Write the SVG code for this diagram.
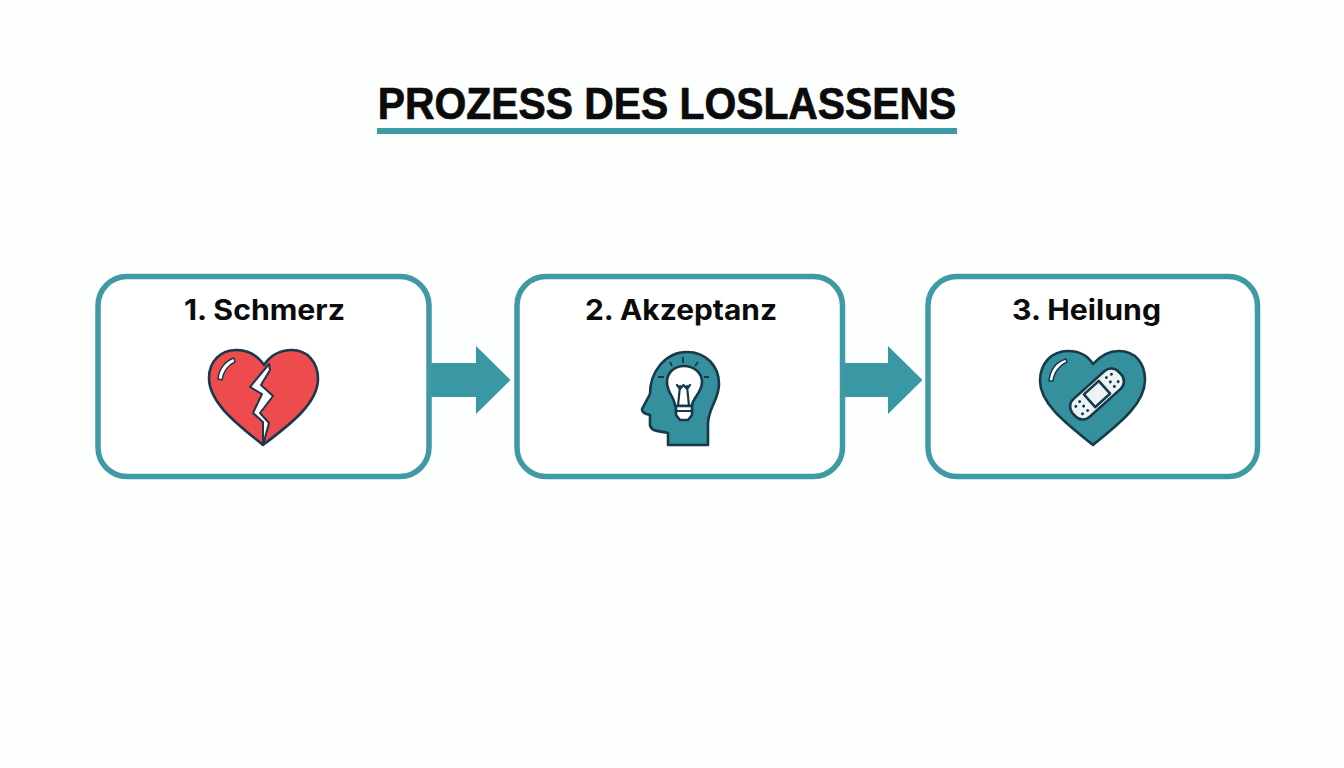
<svg xmlns="http://www.w3.org/2000/svg" width="1344" height="768" viewBox="0 0 1344 768">
<style>
text{font-weight:700;fill:#0b0b0b;text-anchor:middle}
.title{font-family:"Liberation Sans",Arial,sans-serif;font-size:42px;stroke:#0b0b0b;stroke-width:.7}
.label{font-family:Inter,"Liberation Sans",Arial,sans-serif;font-size:28px}
.box{fill:#fff;stroke:#3f9aa6;stroke-width:5.5}
.arrow{fill:#3a97a4}
.ol{stroke:#17394a;stroke-width:2.6;stroke-linejoin:round;stroke-linecap:round}
.teal{fill:#35909e}
.line{fill:none;stroke:#17394a;stroke-width:2.2;stroke-linecap:round;stroke-linejoin:round}
.shine{fill:#fff;stroke:#17394a;stroke-width:1.4;stroke-linejoin:round}
.dot{fill:#17394a}
</style>
<rect width="1344" height="768" fill="#fdfefe"/>
<g id="title">
<text class="title" transform="translate(667,119) scale(.972,1.06)" x="0" y="0">PROZESS DES LOSLASSENS</text>
<rect x="377" y="128" width="580" height="6" fill="#3f9aa6"/>
</g>
<g id="connectors">
<polygon class="arrow" points="429,363 476,363 476,346 510.500,380 476,414 476,397 429,397"/>
<polygon class="arrow" points="843,363 888,363 888,346 922.500,380 888,414 888,397 843,397"/>
</g>
<g id="node-1">
<rect class="box" x="98" y="276.500" width="331" height="200" rx="29"/>
<text class="label" x="264.500" y="320" textLength="161" lengthAdjust="spacingAndGlyphs">1. Schmerz</text>
<path class="ol" fill="#ee4b4e" d="M263,445 C240,426 209,404 209,378 C209,361 221,350 236,350 C249,350 258,356 264,365 C270,356 280,350 292,350 C307,350 318,362 318,379 C318,404 288,426 263,445Z"/>
<path fill="#fff" stroke="#17394a" stroke-width="2" stroke-linejoin="round" d="M269,364 L250,387 L262,394 L253,413 L263,422 L263,445 L269,423 L260,413 L273,396 L261,385 L270,370Z"/>
<path class="shine" d="M218,379 C219,369 225,361 234,358 L235,362 C228,365 223,372 222,380Z"/>
</g>
<g id="node-2">
<rect class="box" x="517" y="276.500" width="325.500" height="200" rx="29"/>
<text class="label" x="681" y="320" textLength="192" lengthAdjust="spacingAndGlyphs">2. Akzeptanz</text>
<path class="ol teal" d="M668,445 L668,433 C660,431 651,432 650,425 L650,415 C646,414 642,413 642,409 L650,394 C650,372 665,352 687,352 C706,352 719,366 719,384 C719,400 708,408 708,424 L708,445Z"/>
<path class="ol" fill="#fff" d="M675,406 L692,406 C692,398 702,393 702,382 C702,372 693,366 684,366 C675,366 667,372 667,382 C667,393 675,398 675,406Z"/>
<path class="line" d="M678,406 L680,386 M689,406 L687,386 M677,385 L680,389 L683.500,385 L687,389 L690,385"/>
<path class="ol" fill="#fff" d="M676,406 L692,406 L692,415 L688,420 L680,420 L676,415Z"/>
<path class="line" d="M676,411 L692,411"/>
<path d="M683,357 V363 M670,362 L672,366 M698,362 L695,366 M658,377 H664 M704,377 H709" fill="none" stroke="#17394a" stroke-width="2"/>
</g>
<g id="node-3">
<rect class="box" x="928" y="276.500" width="329.500" height="200" rx="29"/>
<text class="label" x="1086.500" y="320" textLength="149" lengthAdjust="spacingAndGlyphs">3. Heilung</text>
<path class="ol teal" d="M1093,445 C1070,426 1040,405 1040,381 C1040,363 1052,351 1068,351 C1079,351 1088,356 1093,364 C1100,356 1109,351 1119,351 C1135,351 1145,363 1145,380 C1145,405 1116,426 1093,445Z"/>
<path class="shine" d="M1049,381 C1050,370 1056,362 1066,359 L1067,362 C1060,365 1054,372 1053,381Z"/>
<g transform="translate(1097,394) rotate(-42)">
<rect class="ol" fill="#eef3f3" x="-31" y="-12" width="62" height="24" rx="10"/>
<rect class="ol" fill="#eef3f3" x="-10" y="-8.500" width="20" height="17"/>
<g class="dot">
<circle cx="-24" cy="-5" r="1.500"/><circle cx="-24" cy="5" r="1.500"/><circle cx="-18" cy="-6" r="1.500"/><circle cx="-18" cy="0" r="1.500"/><circle cx="-18" cy="6" r="1.500"/>
<circle cx="24" cy="-5" r="1.500"/><circle cx="24" cy="5" r="1.500"/><circle cx="18" cy="-6" r="1.500"/><circle cx="18" cy="0" r="1.500"/><circle cx="18" cy="6" r="1.500"/>
</g>
</g>
</g>
</svg>
